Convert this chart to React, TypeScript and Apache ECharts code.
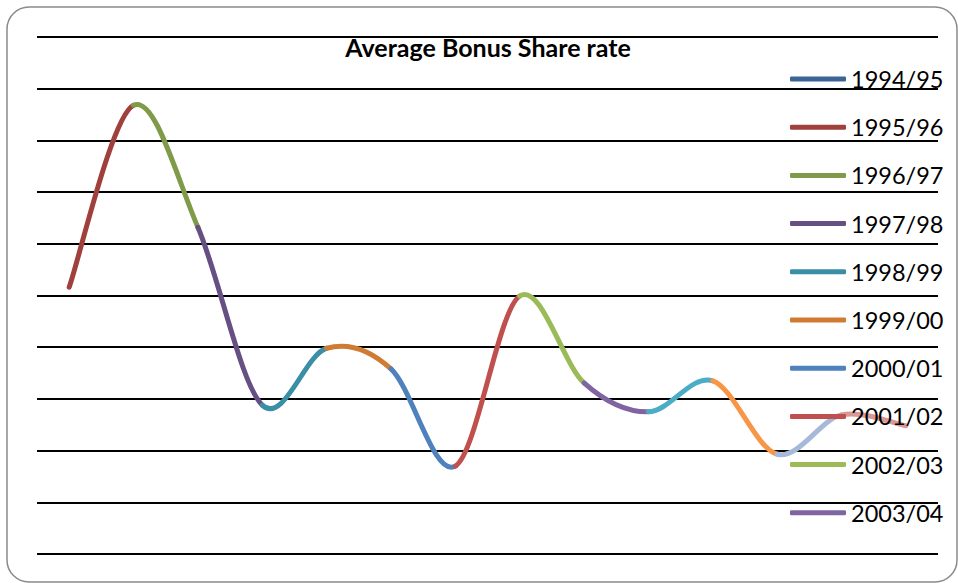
import React, { useEffect, useRef } from "react";
import * as echarts from "echarts";

const categories = [
  "1994/95", "1995/96", "1996/97", "1997/98", "1998/99", "1999/00", "2000/01",
  "2001/02", "2002/03", "2003/04", "2004/05", "2005/06", "2006/07", "2007/08",
];
const values = [5.16, 8.68, 6.32, 2.88, 3.98, 3.58, 1.70, 4.99, 3.31, 2.75, 3.35, 1.93, 2.69, 2.48];
const pointColors = [
  "#3C6494", "#A0403D", "#7F9A48", "#664F83", "#3A8FA6", "#CF7B32", "#4F81BD",
  "#C0504D", "#9BBB59", "#8064A2", "#4BACC6", "#F79646", "#A7B9D9", "#D99795",
];
const legendNames = categories.slice(0, 10);
const titleText = "Average Bonus Share rate";

export default function App() {
  const ref = useRef<HTMLDivElement>(null);
  useEffect(() => {
    if (!ref.current) return;
    const chart = echarts.init(ref.current, null, { renderer: "svg" });
    const n = values.length;
    const dummy = legendNames.map((nm, i) => ({
      name: nm,
      type: "line" as const,
      data: [],
      color: pointColors[i],
      showSymbol: false,
    }));
    const renderItem = (params: any, api: any) => {
      const i = params.dataIndex;
      if (i === 0) return { type: "group", children: [] };
      const pt = (k: number) => {
        const kk = Math.max(0, Math.min(n - 1, k));
        return api.coord([kk, values[kk]]);
      };
      const p0 = pt(i - 2);
      const p1 = pt(i - 1);
      const p2 = pt(i);
      const p3 = pt(i + 1);
      const t = 1 / 6;
      return {
        type: "bezierCurve",
        shape: {
          x1: p1[0],
          y1: p1[1],
          x2: p2[0],
          y2: p2[1],
          cpx1: p1[0] + (p2[0] - p0[0]) * t,
          cpy1: p1[1] + (p2[1] - p0[1]) * t,
          cpx2: p2[0] - (p3[0] - p1[0]) * t,
          cpy2: p2[1] - (p3[1] - p1[1]) * t,
        },
        style: {
          stroke: pointColors[i],
          lineWidth: 5,
          fill: "none",
          lineCap: "round",
        },
      };
    };
    chart.setOption({
      animation: false,
      backgroundColor: "#ffffff",
      graphic: [
        {
          type: "rect",
          shape: { x: 7, y: 7, width: 950, height: 575, r: 22 },
          style: { fill: "none", stroke: "#8a8a8a", lineWidth: 1.5 },
          z: -1,
          silent: true,
        },
      ],
      title: {
        text: titleText,
        left: 488,
        textAlign: "center",
        top: 34,
        padding: 0,
        textStyle: { fontFamily: "Lato", fontWeight: "bold", fontSize: 25, color: "#000" },
      },
      legend: {
        orient: "vertical",
        left: 790,
        top: 67,
        padding: 0,
        itemWidth: 56,
        itemHeight: 5,
        itemGap: 24.2,
        itemTextGap: 4,
        icon: "roundRect",
        data: legendNames,
        textStyle: { fontFamily: "Lato", fontSize: 23.5, color: "#000", lineHeight: 24 },
      },
      grid: { left: 37, right: 20, top: 37, bottom: 29 },
      xAxis: {
        type: "category",
        data: categories,
        boundaryGap: true,
        axisLine: { show: false },
        axisTick: { show: false },
        axisLabel: { show: false },
      },
      yAxis: {
        type: "value",
        min: 0,
        max: 10,
        interval: 1,
        axisLine: { show: false },
        axisTick: { show: false },
        axisLabel: { show: false },
        splitLine: { lineStyle: { color: "#000", width: 2 } },
      },
      series: [
        {
          name: "Average Bonus Share rate",
          type: "custom",
          data: values.map((v, i) => [i, v]),
          encode: { x: 0, y: 1 },
          renderItem,
        },
        ...dummy,
      ],
    });
    return () => chart.dispose();
  }, []);
  return (
    <div
      ref={ref}
      style={{ position: "fixed", left: 0, top: 0, width: 958, height: 583 }}
    />
  );
}
